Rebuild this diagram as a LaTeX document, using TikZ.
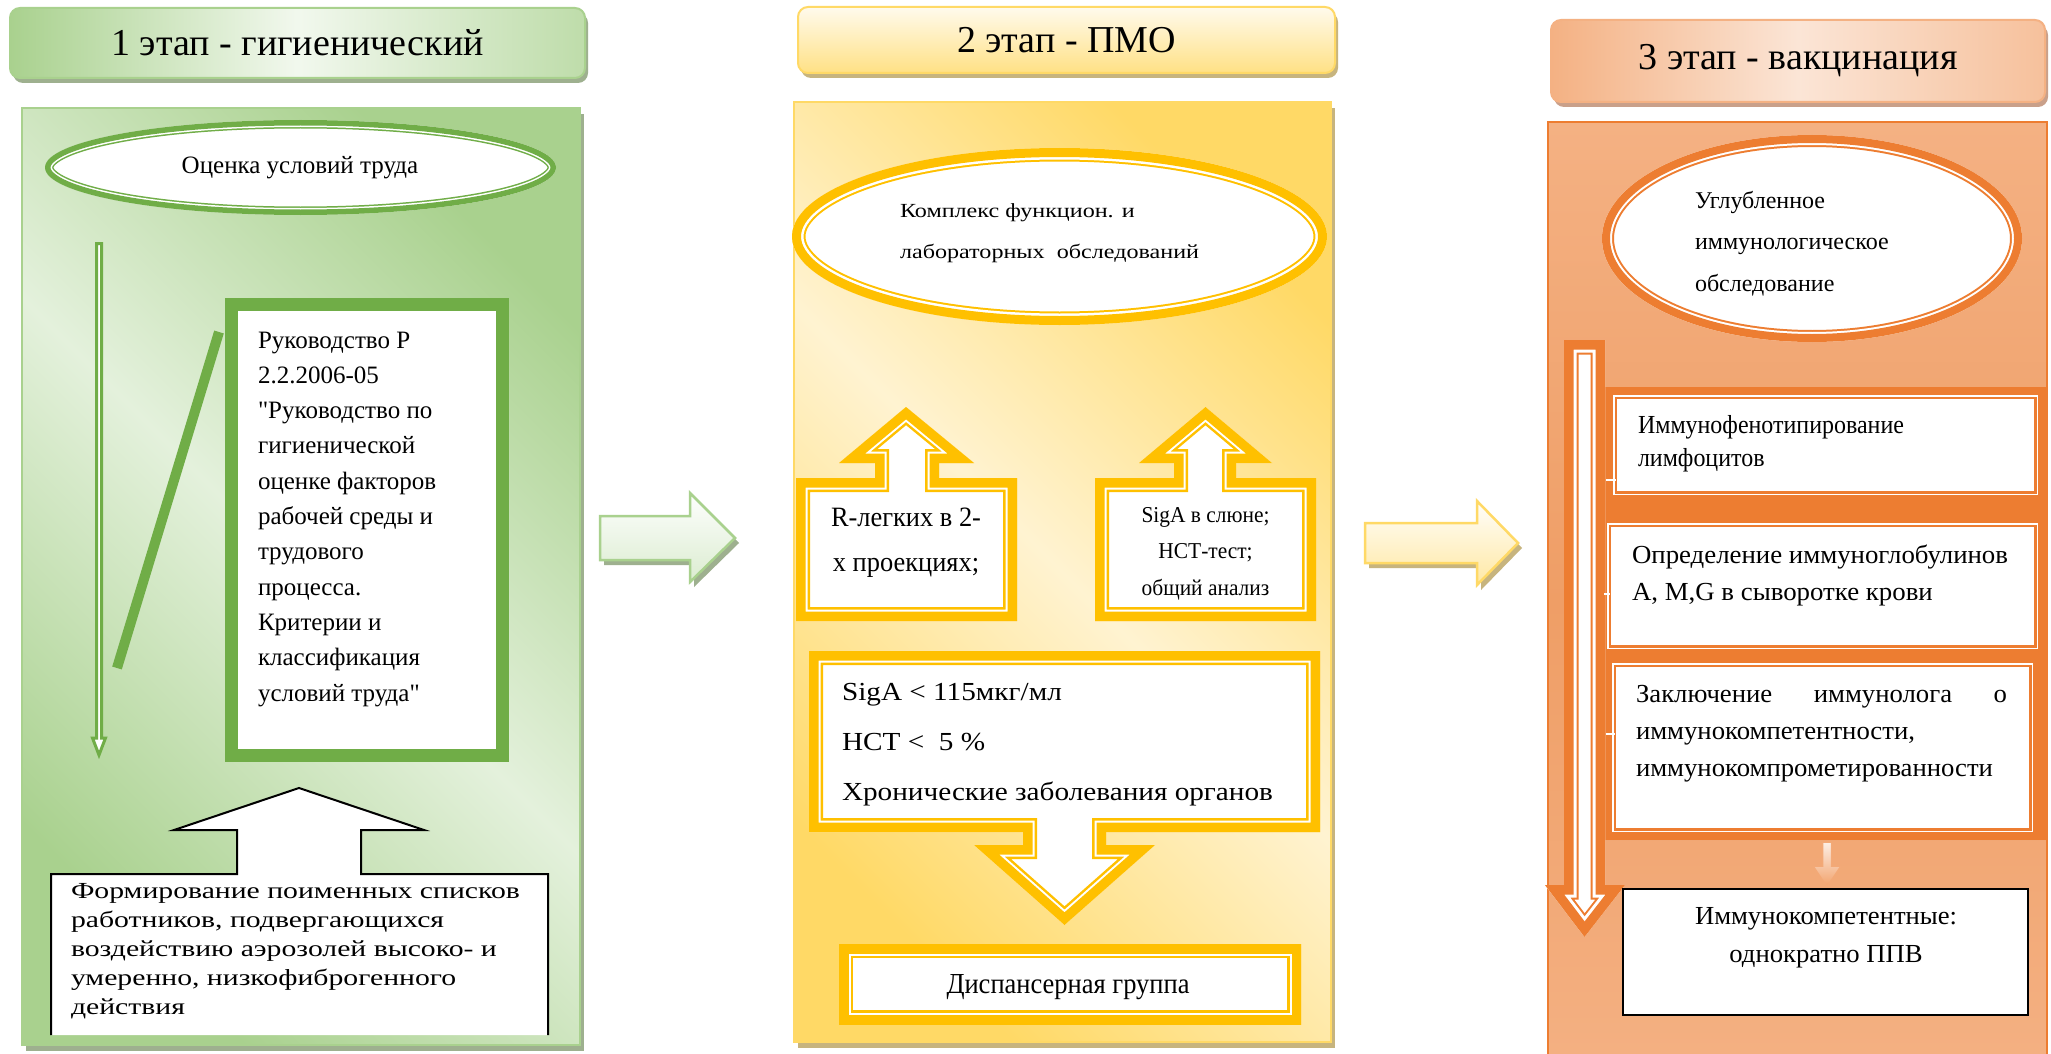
\documentclass[tikz,border=0pt]{standalone}
\usepackage{graphicx}
\usepackage{fontspec}
\setmainfont{Liberation Serif}[Ligatures=TeXOff]
\usetikzlibrary{shadows}
\definecolor{grD}{HTML}{70AD47}
\definecolor{grM}{HTML}{A9D18E}
\definecolor{grL}{HTML}{E4F1DC}
\definecolor{grS}{HTML}{9EB08F}
\definecolor{yeD}{HTML}{FFC000}
\definecolor{yeM}{HTML}{FFD966}
\definecolor{yeL}{HTML}{FFF3D1}
\definecolor{yeS}{HTML}{C7B47E}
\definecolor{orD}{HTML}{ED7D31}
\definecolor{orM}{HTML}{F4B183}
\definecolor{orL}{HTML}{FBE5D6}
\definecolor{orS}{HTML}{C9A08A}
\definecolor{orK}{HTML}{EF9E66}
\newlength\mylen
\newcommand\fitw[2]{\resizebox{#1pt}{\height}{#2}}
\newcommand\band[5]{%
  \begin{scope}
    \clip #5;
    \fill[white] #5;
    \draw[#1, line width={2*(#2+#3+#4)}, line join=miter, miter limit=30] #5;
    \draw[white, line width={2*(#2+#3)}, line join=miter, miter limit=30] #5;
    \draw[#1, line width={2*(#2)}, line join=miter, miter limit=30] #5;
  \end{scope}}
\tikzset{
  txt/.style={inner sep=0pt, outer sep=0pt, text=black},
  titlebox/.style={rectangle, rounded corners=10pt, inner sep=0pt, line width=2pt,
    font=\fontsize{38}{45}\selectfont},
  panel/.style={rectangle, inner sep=0pt, line width=2pt},
  obox/.style={rectangle, inner sep=0pt, fill=white, draw=white, line width=1.5pt,
    double=orD, double distance=2.5pt},
}
\begin{document}
\begin{tikzpicture}[x=1pt, y=-1pt]
\useasboundingbox (0,0) rectangle (2051,1054);
\fill[white] (0,0) rectangle (2051,1054);

% ---------- titles ----------
\node[titlebox, draw=grM, left color=grM, right color=grM!75!white, middle color=grL!50!white,
  drop shadow={shadow xshift=3pt, shadow yshift=-5pt, fill=grS, opacity=1},
  minimum width=575pt, minimum height=70pt] (t1) at (297.5,43) {1 этап - гигиенический};
\node[titlebox, draw=yeM, top color=yeL!40!white, bottom color=yeM!80!white,
  drop shadow={shadow xshift=3pt, shadow yshift=-5pt, fill=yeS, opacity=1},
  minimum width=537pt, minimum height=66pt] (t2) at (1066.5,40) {2 этап - ПМО};
\node[titlebox, draw=orM, left color=orM, right color=orM!80!white, middle color=orL,
  drop shadow={shadow xshift=3pt, shadow yshift=-5pt, fill=orS, opacity=1},
  minimum width=494pt, minimum height=82pt] (t3) at (1798,61) {3 этап - вакцинация};

% ---------- panels ----------
\node[panel, draw=grM, top color=grM, bottom color=grM, middle color=grL, shading angle=-45,
  drop shadow={shadow xshift=4pt, shadow yshift=-6pt, fill=grS, opacity=1},
  minimum width=558pt, minimum height=937pt] (p1) at (301,576.5) {};
\node[panel, draw=yeM, top color=yeM, bottom color=yeM, middle color=yeL, shading angle=-45,
  drop shadow={shadow xshift=4pt, shadow yshift=-6pt, fill=yeS, opacity=1},
  minimum width=537pt, minimum height=940pt] (p2) at (1062.5,572) {};
\node[panel, draw=orD, top color=orM, bottom color=orM, middle color=orK,
  minimum width=499pt, minimum height=958pt] (p3) at (1797.5,601) {};

% ---------- middle arrows ----------
\fill[grS] (604,521) -- (694,521) -- (694,498) -- (739,543) -- (694,587) -- (694,565) -- (604,565) -- cycle;
\path[top color=white!95!grL, bottom color=grL!85!grM, draw=grM, line width=2.5pt]
  (600,516) -- (690,516) -- (690,493) -- (735,538) -- (690,582) -- (690,560) -- (600,560) -- cycle;
\fill[yeS] (1369,528) -- (1481,528) -- (1481,506) -- (1522,548) -- (1481,590) -- (1481,568) -- (1369,568) -- cycle;
\path[top color=white!90!yeL, bottom color=yeM!60!white, draw=yeM, line width=2.5pt]
  (1365,523) -- (1477,523) -- (1477,501) -- (1518,543) -- (1477,585) -- (1477,563) -- (1365,563) -- cycle;

% ---------- stage 1 ----------
\band{grD}{5.5}{1.5}{1.5}{(300.5,167.5) ellipse [x radius=255.5, y radius=47.5]}
\node[txt, anchor=base] (ocenka) at (300,174) {\fontsize{25}{30}\selectfont Оценка условий труда};

\draw[grD, line width=3pt, fill=white, line join=miter]
  (96.5,243.5) -- (101.5,243.5) -- (101.5,738) -- (105.5,738) -- (99,755) -- (92.5,738) -- (96.5,738) -- cycle;
\draw[grD, line width=10pt] (219,332) -- (117,668);

\node[rectangle, draw=grD, line width=13pt, fill=white, inner sep=0pt,
  minimum width=271pt, minimum height=451pt] (ruk) at (367,530) {};
\node[txt, anchor=base west] (ruktext) at (258,348) {\fontsize{25}{35.3}\selectfont
  \begin{tabular}[t]{@{}l@{}}Руководство Р\\ 2.2.2006-05\\ "Руководство по\\ гигиенической\\
  оценке факторов\\ рабочей среды и\\ трудового\\ процесса.\\ Критерии и\\ классификация\\
  условий труда"\end{tabular}};

\fill[white] (51,1035) -- (51,874) -- (237,874) -- (237,830) -- (174,830) -- (299,788) -- (424,830)
  -- (361,830) -- (361,874) -- (548,874) -- (548,1035) -- cycle;
\draw[black, line width=2pt, line join=miter] (51,1035) -- (51,874) -- (237,874) -- (237,830) -- (174,830)
  -- (299,788) -- (424,830) -- (361,830) -- (361,874) -- (548,874) -- (548,1035);
\node[txt, anchor=base west] (form) at (71,898) {\fitw{449}{\fontsize{23}{29}\selectfont
  \begin{tabular}[t]{@{}l@{}}Формирование поименных списков\\ работников, подвергающихся\\
  воздействию аэрозолей высоко- и\\ умеренно, низкофиброгенного\\ действия\end{tabular}}};

% ---------- stage 2 ----------
\band{yeD}{9}{2.5}{2}{(1059.5,236.5) ellipse [x radius=267.5, y radius=88.5]}
\node[txt, anchor=base west] (kompl) at (900,218) {\fitw{299}{\fontsize{20}{40}\selectfont
  \begin{tabular}[t]{@{}l@{}}Комплекс функцион. и\\ лабораторных\ \ обследований\end{tabular}}};

\band{yeD}{9.5}{2}{2.5}{(796,621) -- (796,478) -- (875,478) -- (875,463) -- (839,463) -- (906,407) -- (974,463) -- (939,463) -- (939,478) -- (1017,478) -- (1017,621) -- cycle}
\node[txt, anchor=base] (rleg) at (906,526) {\fitw{150}{\fontsize{28}{45}\selectfont
  \begin{tabular}[t]{@{}c@{}}R-легких в 2-\\ х проекциях;\end{tabular}}};

\band{yeD}{9.5}{2}{2.5}{(1095,621) -- (1095,478) -- (1174,478) -- (1174,463) -- (1139,463) -- (1205.5,407) -- (1272,463) -- (1236,463) -- (1236,478) -- (1316,478) -- (1316,621) -- cycle}
\node[txt, anchor=base] (siga) at (1205.5,522) {\fitw{128}{\fontsize{22.7}{36.6}\selectfont
  \begin{tabular}[t]{@{}c@{}}SigA в слюне;\\ НСТ-тест;\\ общий анализ\end{tabular}}};

\band{yeD}{9.5}{2}{2.5}{(809,651) -- (1320,651) -- (1320,832) -- (1106,832) -- (1106,845) -- (1155,845) -- (1064.5,925) -- (974,845) -- (1023,845) -- (1023,832) -- (809,832) -- cycle}
\node[txt, anchor=base west] (crit) at (842,700) {\fitw{431}{\fontsize{26}{50}\selectfont
  \begin{tabular}[t]{@{}l@{}}SigA < 115мкг/мл\\ НСТ <\ \ 5 \%\\ Хронические заболевания органов\end{tabular}}};

\band{yeD}{9.5}{2}{2.5}{(839,944) rectangle (1301,1024)}
\node[txt, anchor=base] (disp) at (1068,993) {\fitw{243}{\fontsize{29}{34}\selectfont Диспансерная группа}};

% ---------- stage 3 ----------
\band{orD}{8}{2}{2}{(1812,238.5) ellipse [x radius=210, y radius=103.5]}
\node[txt, anchor=base west] (uglub) at (1695,208) {\fontsize{24}{41.5}\selectfont
  \begin{tabular}[t]{@{}l@{}}Углубленное\\ иммунологическое\\ обследование\end{tabular}};

\fill[orD] (1605,387) rectangle (2047,840);
\band{orD}{9.5}{3}{2}{(1564,340) -- (1605,340) -- (1605,885) -- (1625,885) -- (1584.5,937) -- (1545,885) -- (1564,885) -- cycle}

\node[obox, minimum width=419.5pt, minimum height=94.5pt] (b1) at (1825.5,445) {};
\node[obox, minimum width=425.5pt, minimum height=120.5pt] (b2) at (1822.5,586) {};
\node[obox, minimum width=415.5pt, minimum height=163.5pt] (b3) at (1822.5,747.5) {};
\draw[white, line width=2pt] (1606,480) -- (1616,480);
\draw[white, line width=2pt] (1604,594) -- (1610,594);
\draw[white, line width=2pt] (1606,734) -- (1615,734);
\node[txt, anchor=base west] (b1t) at (1638,433) {\fitw{266}{\fontsize{26}{33}\selectfont
  \begin{tabular}[t]{@{}l@{}}Иммунофенотипирование\\ лимфоцитов\end{tabular}}};
\node[txt, anchor=base west] (b2t) at (1632,563) {\fitw{376}{\fontsize{26}{37}\selectfont
  \begin{tabular}[t]{@{}l@{}}Определение иммуноглобулинов\\ А, М,G в сыворотке крови\end{tabular}}};
\node[txt, anchor=base west] (b3t) at (1636,702) {\fontsize{26}{37}\selectfont
  \settowidth{\mylen}{иммунокомпрометированности}\fitw{371}{%
  \begin{tabular}[t]{@{}l@{}}\hbox to 1.0392\mylen{Заключение\hfill иммунолога\hfill о}\\
  иммунокомпетентности,\\ иммунокомпрометированности\end{tabular}}};

\path[top color=orL!60!white, bottom color=orM!70!orD, draw=orM!85!orD, line width=1.5pt, line join=miter]
  (1822.5,842) -- (1831.5,842) -- (1831.5,866) -- (1841,866) -- (1827,887) -- (1813,866) -- (1822.5,866) -- cycle;

\node[rectangle, draw=black, line width=2pt, fill=white, inner sep=0pt,
  minimum width=405pt, minimum height=126pt] (fin) at (1825.5,952) {};
\node[txt, anchor=base] (fint) at (1826,924) {\fitw{262}{\fontsize{26}{38}\selectfont
  \begin{tabular}[t]{@{}c@{}}Иммунокомпетентные:\\ однократно ППВ\end{tabular}}};
\end{tikzpicture}
\end{document}
